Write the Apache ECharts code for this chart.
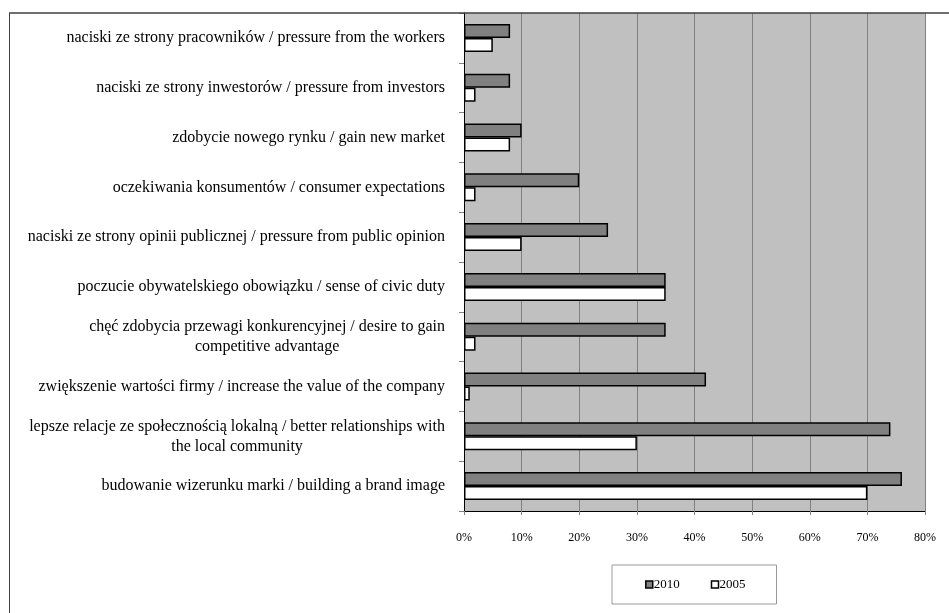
<!DOCTYPE html>
<html>
<head>
<meta charset="utf-8">
<script src="https://cdn.jsdelivr.net/npm/echarts@6/dist/echarts.min.js"></script>
<style>
  html, body { margin: 0; padding: 0; background: #fff; }
  #chart { width: 949px; height: 613px; }
</style>
</head>
<body>
<div id="chart"></div>
<script>
// Motives, listed top to bottom
const categories = [
  'naciski ze strony pracowników / pressure from the workers',
  'naciski ze strony inwestorów / pressure from investors',
  'zdobycie nowego rynku / gain new market',
  'oczekiwania konsumentów / consumer expectations',
  'naciski ze strony opinii publicznej / pressure from public opinion',
  'poczucie obywatelskiego obowiązku / sense of civic duty',
  'chęć zdobycia przewagi konkurencyjnej / desire to gain\ncompetitive advantage',
  'zwiększenie wartości firmy / increase the value of the company',
  'lepsze relacje ze społecznością lokalną / better relationships with\nthe local community',
  'budowanie wizerunku marki / building a brand image'
];
// Share of responses, %
const values2010 = [8, 8, 10, 20, 25, 35, 35, 42, 74, 76];
const values2005 = [5, 2, 8, 2, 10, 35, 2, 1, 30, 70];
const xTicks = [0, 10, 20, 30, 40, 50, 60, 70, 80];

const serif = '"Liberation Serif", "Times New Roman", serif';
const chart = echarts.init(document.getElementById('chart'));

chart.setOption({
  animation: false,
  backgroundColor: '#ffffff',
  grid: {
    left: 464, top: 13, right: 24, bottom: 102,
    show: true, backgroundColor: '#c0c0c0', borderWidth: 0
  },
  legend: {
    data: ['2010', '2005'],
    left: 612, top: 565,
    orient: 'horizontal',
    icon: 'rect',
    itemWidth: 7, itemHeight: 7,
    itemGap: 31,
    padding: [13, 31, 13, 33],
    backgroundColor: '#ffffff',
    borderColor: '#999999', borderWidth: 1, borderRadius: 0,
    textStyle: { fontFamily: serif, fontSize: 13, color: '#000', padding: [0, 0, 0, -4] },
    itemStyle: { borderColor: '#000', borderWidth: 1.5 }
  },
  xAxis: {
    type: 'value',
    min: xTicks[0], max: xTicks[xTicks.length - 1], interval: 10,
    axisLine: { show: true, lineStyle: { color: '#000', width: 1 } },
    axisTick: { show: true, length: 4, lineStyle: { color: '#808080' } },
    axisLabel: {
      margin: 21,
      fontFamily: serif, fontSize: 12, color: '#000',
      formatter: '{value}%'
    },
    splitLine: { show: true, lineStyle: { color: '#808080', width: 1 } }
  },
  yAxis: {
    type: 'category',
    inverse: true,
    data: categories,
    axisLine: { show: true, lineStyle: { color: '#000', width: 1 } },
    axisTick: { show: true, length: 5, alignWithLabel: false, lineStyle: { color: '#808080' } },
    axisLabel: {
      margin: 19,
      fontFamily: serif, fontSize: 16, color: '#000', lineHeight: 20,
      formatter: function (v) {
        return v.split('\n').map(function (s) { return '{c|' + s + '}'; }).join('\n');
      },
      rich: { c: { align: 'center', fontFamily: serif, fontSize: 16, lineHeight: 20, color: '#000' } }
    },
    splitLine: { show: false }
  },
  series: [
    {
      name: '2010', type: 'bar', data: values2010,
      barWidth: 14, barGap: '0%',
      itemStyle: { color: '#808080', borderColor: '#000', borderWidth: 1.5 }
    },
    {
      name: '2005', type: 'bar', data: values2005,
      barWidth: 14, barGap: '0%',
      itemStyle: { color: '#ffffff', borderColor: '#000', borderWidth: 1.5 }
    }
  ],
  graphic: [
    { type: 'line', shape: { x1: 9, y1: 13, x2: 949, y2: 13 }, style: { stroke: '#404040', lineWidth: 1.5 }, z: 100 },
    { type: 'line', shape: { x1: 9.5, y1: 13, x2: 9.5, y2: 613 }, style: { stroke: '#404040', lineWidth: 1 }, z: 100 }
  ]
});
</script>
</body>
</html>
